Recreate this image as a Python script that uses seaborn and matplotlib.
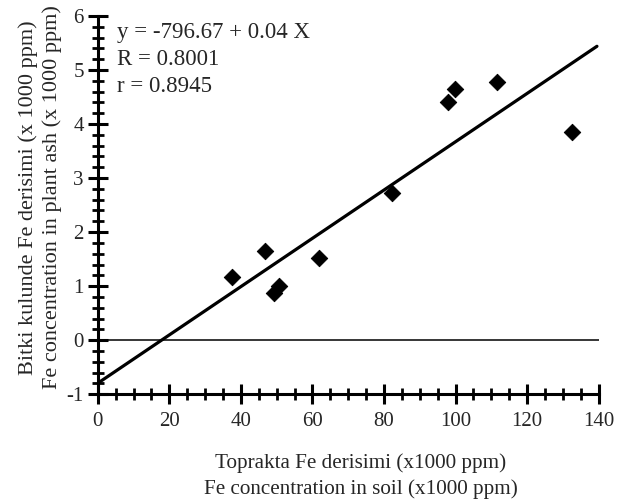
import matplotlib
matplotlib.use("Agg")
import matplotlib.pyplot as plt
import numpy as np
import pandas as pd
import seaborn as sns
from matplotlib.ticker import MultipleLocator

# Fe in soil (x1000 ppm) vs Fe in plant ash (x1000 ppm)
soil_fe = [37.5, 46.8, 49.3, 50.7, 61.9, 82.3, 98.0, 99.7, 111.5, 132.5]
plant_fe = [1.16, 1.65, 0.88, 1.00, 1.52, 2.72, 4.40, 4.65, 4.78, 3.85]

intercept = -0.79667
slope = 0.0447
fit_x = [0, 139.5]
fit_y = [intercept + slope * x for x in fit_x]
zero_x = [0, 140]
zero_y = [0, 0]

df = pd.DataFrame({"soil": soil_fe, "plant": plant_fe})

sns.set_style("white")
plt.rcParams["font.family"] = ["Liberation Serif", "DejaVu Serif"]
plt.rcParams["axes.unicode_minus"] = False

fig = plt.figure(figsize=(6.39, 4.99), dpi=100)
ax = fig.add_axes([0.153, 0.21, 0.784, 0.758])

sns.lineplot(x=zero_x, y=zero_y, ax=ax, color="black", linewidth=1.1)
sns.lineplot(x=fit_x, y=fit_y, ax=ax, color="black", linewidth=2.3)
sns.scatterplot(data=df, x="soil", y="plant", ax=ax, marker="D", s=70,
                color="black", edgecolor="black", zorder=5)

ax.set_xlim(0, 140)
ax.set_ylim(-1, 6)
ax.xaxis.set_major_locator(MultipleLocator(20))
ax.xaxis.set_minor_locator(MultipleLocator(5))
ax.yaxis.set_major_locator(MultipleLocator(1))
ax.yaxis.set_minor_locator(MultipleLocator(0.2))

for side in ["top", "right"]:
    ax.spines[side].set_visible(False)
for side in ["left", "bottom"]:
    ax.spines[side].set_linewidth(2.2)
    ax.spines[side].set_color("black")

ax.tick_params(which="major", direction="inout", length=14, width=2.2,
               labelsize=15, pad=3, color="black", left=True, bottom=True)
ax.tick_params(which="minor", direction="inout", length=9, width=2.0,
               color="black", left=True, bottom=True)
ax.tick_params(axis="x", which="major", pad=6)

ax.set_xlabel("Toprakta Fe derisimi (x1000 ppm)\nFe concentration in soil (x1000 ppm)",
              fontsize=15.2, labelpad=16, linespacing=1.4)
ax.xaxis.label.set_x(0.525)
ax.set_ylabel("Bitki kulunde Fe derisimi (x 1000 ppm)\nFe concentration in plant ash (x 1000 ppm)",
              fontsize=16, labelpad=3, linespacing=1.3)
ax.yaxis.label.set_y(0.52)

ax.text(0.038, 0.985, "y = -796.67 + 0.04 X\nR = 0.8001\nr = 0.8945",
        transform=ax.transAxes, fontsize=16.5, va="top", ha="left",
        linespacing=1.4)

fig.savefig("out.png", dpi=100)
